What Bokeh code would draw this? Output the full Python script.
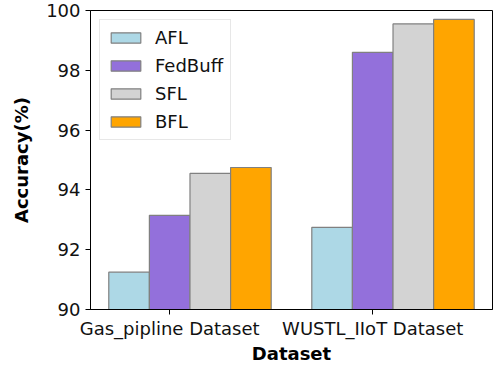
from bokeh.plotting import figure
from bokeh.models import Range1d, FixedTicker, Legend, LegendItem, ColumnDataSource
from bokeh.embed import file_html
from bokeh.resources import INLINE

datasets = ["Gas_pipline Dataset", "WUSTL_IIoT Dataset"]
series = ["AFL", "FedBuff", "SFL", "BFL"]
afl = [91.25, 92.75]
fedbuff = [93.15, 98.6]
sfl = [94.55, 99.55]
bfl = [94.75, 99.7]
y_ticks = [90, 92, 94, 96, 98, 100]

colors = ["#ADD8E6", "#9370DB", "#D3D3D3", "#FFA500"]
offsets = [-0.2, 0.0, 0.2, 0.4]
bar_w = 0.2

p = figure(width=493, height=366, output_backend="svg", toolbar_location=None,
           x_range=Range1d(-0.39, 1.59), y_range=Range1d(90, 100),
           min_border_left=90, min_border_right=1, min_border_top=10,
           min_border_bottom=10)

p.xgrid.visible = False
p.ygrid.visible = False
p.outline_line_color = "black"
p.outline_line_width = 1
p.outline_line_alpha = 1

items = []
for name, vals, col, off in zip(series, [afl, fedbuff, sfl, bfl], colors, offsets):
    src = ColumnDataSource(dict(x=[i + off for i in range(len(datasets))], top=vals))
    r = p.vbar(x="x", top="top", bottom=0, width=bar_w, source=src,
               fill_color=col, line_color="#808080", line_width=1.2)
    items.append(LegendItem(label=name, renderers=[r]))

legend = Legend(items=items, location="top_left", margin=9, padding=7,
                spacing=7, glyph_width=37, glyph_height=13, label_height=20,
                label_standoff=11, label_text_font="DejaVu Sans",
                label_text_font_size="18px", label_text_color="#111111",
                border_line_color="#d0d0d0", border_line_width=1,
                background_fill_alpha=0.8)
p.add_layout(legend)

font = "DejaVu Sans"
for ax in (p.xaxis[0], p.yaxis[0]):
    ax.axis_line_color = "black"
    ax.major_tick_line_color = "black"
    ax.major_tick_in = 0
    ax.major_tick_out = 5
    ax.minor_tick_line_color = None
    ax.major_label_text_font = font
    ax.major_label_text_font_size = "18px"
    ax.major_label_text_color = "#111111"
    ax.axis_label_text_font = font
    ax.axis_label_text_font_size = "18px"
    ax.axis_label_text_font_style = "bold"
    ax.axis_label_text_color = "black"

p.xaxis.ticker = FixedTicker(ticks=list(range(len(datasets))))
p.xaxis.major_label_overrides = {i: d for i, d in enumerate(datasets)}
p.xaxis.axis_label = "Dataset"
p.xaxis.major_label_standoff = 3
p.xaxis.axis_label_standoff = 1

p.yaxis.ticker = FixedTicker(ticks=y_ticks)
p.yaxis.axis_label = "Accuracy(%)"
p.yaxis.major_label_standoff = 5
p.yaxis.axis_label_standoff = 11

open("out.html", "w").write(file_html(p, INLINE))
